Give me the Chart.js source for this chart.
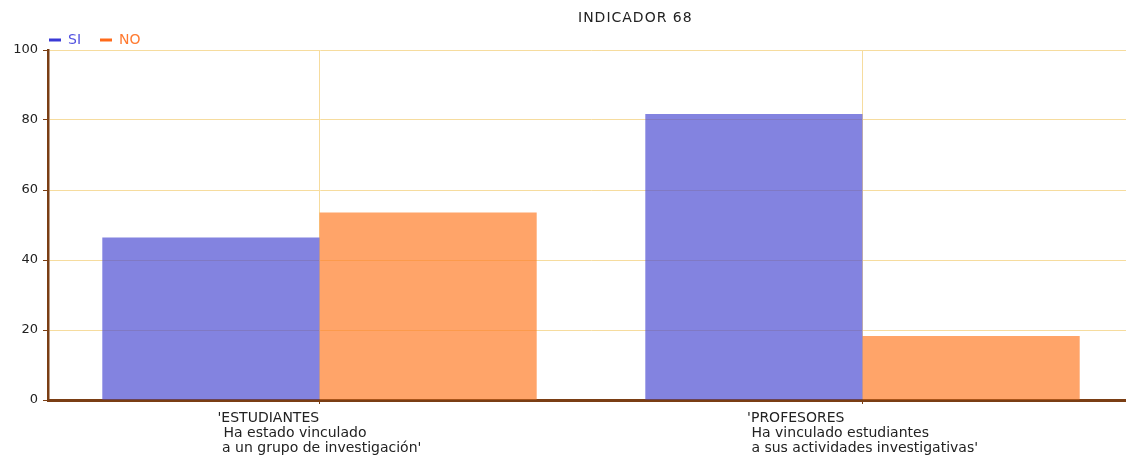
<!DOCTYPE html>
<html lang="es">
<head>
  <meta charset="UTF-8" />
  <title>INDICADOR 68</title>
  <script src="https://cdn.jsdelivr.net/npm/chart.js"></script>
  <style>
    html, body { margin: 0; padding: 0; background: #fff; overflow: hidden; }
    .wrap { position: relative; width: 1140px; height: 459px; }
    .titulo {
      position: absolute; top: 9px; left: 578px;
      font: 14px "DejaVu Sans", Verdana, sans-serif; letter-spacing: 1px; color: #222;
    }
  </style>
</head>
<body>
  <div class="wrap">
    <div class="titulo">INDICADOR 68</div>
    <canvas id="grafico"></canvas>
  </div>

  <script>
    const categorias = [
      ["'ESTUDIANTES", " Ha estado vinculado", " a un grupo de investigación'"],
      ["'PROFESORES", " Ha vinculado estudiantes", " a sus actividades investigativas'"]
    ];
    const serieSI = [46.4, 81.7];
    const serieNO = [53.6, 18.3];
    const ticksY = [0, 20, 40, 60, 80, 100];

    const fuente = '"DejaVu Sans", Verdana, sans-serif';
    const marron = "#7a3e14";
    const rejilla = "#f6dc9e";

    // pad lines with spaces so the centered label looks left-aligned
    const ctxMedida = document.createElement("canvas").getContext("2d");
    ctxMedida.font = "14px " + fuente;
    const ancho = t => ctxMedida.measureText(t).width;
    const etiquetas = categorias.map(lineas => {
      const max = Math.max(...lineas.map(ancho));
      return lineas.map(l => {
        let s = l;
        while (ancho(s + " ") <= max + 1) s += " ";
        return s;
      });
    });

    const colores = {
      SI: { fill: "rgba(79,79,211,0.7)", line: "#3a3ad6", text: "#5252e0" },
      NO: { fill: "rgba(255,125,41,0.7)", line: "#ff6a1a", text: "#ff7a30" }
    };

    // fixed legend height, and legend moved right to sit over the plot
    const margenLeyenda = {
      id: "margenLeyenda",
      beforeInit(chart) {
        const fit = chart.legend.fit;
        chart.legend.fit = function () {
          fit.bind(chart.legend)();
          this.height = 36;
        };
      },
      afterLayout(chart) {
        chart.legend.left += 30;
      }
    };

    new Chart(document.getElementById("grafico"), {
      type: "bar",
      data: {
        labels: etiquetas,
        datasets: [
          { label: "SI", data: serieSI, backgroundColor: colores.SI.fill, borderWidth: 0 },
          { label: "NO", data: serieNO, backgroundColor: colores.NO.fill, borderWidth: 0 }
        ]
      },
      options: {
        responsive: true,
        maintainAspectRatio: false,
        animation: false,
        layout: { padding: { left: 0, right: 6, top: 14, bottom: 0 } },
        datasets: { bar: { categoryPercentage: 0.8, barPercentage: 1.0 } },
        plugins: {
          title: { display: false },
          tooltip: { enabled: false },
          legend: {
            display: true,
            position: "top",
            align: "start",
            labels: {
              usePointStyle: true,
              pointStyleWidth: 12,
              boxHeight: 12,
              padding: 19,
              font: { family: fuente, size: 14 },
              generateLabels(chart) {
                return chart.data.datasets.map((ds, i) => ({
                  text: ds.label,
                  datasetIndex: i,
                  pointStyle: "line",
                  strokeStyle: colores[ds.label].line,
                  fillStyle: colores[ds.label].line,
                  lineWidth: 3,
                  fontColor: colores[ds.label].text,
                  hidden: false
                }));
              }
            }
          }
        },
        scales: {
          x: {
            offset: true,
            grid: { offset: false, color: rejilla, lineWidth: 1, tickColor: marron, tickLength: 4 },
            border: { color: marron, width: 3 },
            ticks: {
              color: "#222",
              padding: 7,
              maxRotation: 0,
              autoSkip: false,
              font: { family: fuente, size: 14, lineHeight: 1.07 }
            },
            afterFit(scale) { scale.height = 59; }
          },
          y: {
            min: 0,
            max: 100,
            afterBuildTicks(scale) { scale.ticks = ticksY.map(v => ({ value: v })); },
            grid: { color: rejilla, lineWidth: 1, tickColor: marron, tickLength: 5 },
            border: { color: marron, width: 2.5 },
            ticks: {
              color: "#222",
              padding: 5,
              font: { family: fuente, size: 13 }
            },
            afterFit(scale) { scale.width = 48; }
          }
        }
      },
      plugins: [margenLeyenda]
    });
  </script>
</body>
</html>
